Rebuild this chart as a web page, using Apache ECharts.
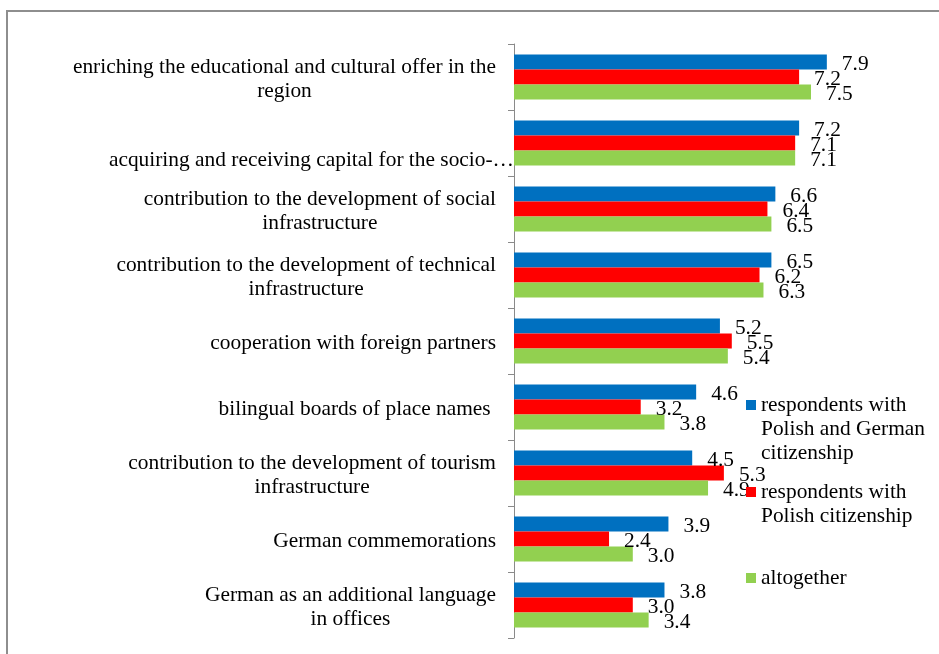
<!DOCTYPE html>
<html>
<head>
<meta charset="utf-8">
<script src="https://cdn.jsdelivr.net/npm/echarts@6/dist/echarts.min.js"></script>
<style>
html,body{margin:0;padding:0;width:939px;height:654px;overflow:hidden;background:#fff;}
#frame{position:absolute;left:6px;top:10px;width:1000px;height:700px;border:2px solid #8e8e8e;box-sizing:border-box;}
#chart{position:absolute;left:0;top:0;width:939px;height:654px;}
</style>
</head>
<body>
<div id="frame"></div>
<div id="chart"></div>
<script>
const categories = [
  'enriching the educational and cultural offer in the\nregion',
  'acquiring and receiving capital for the socio-\u2026',
  'contribution to the development of social\ninfrastructure',
  'contribution to the development of technical\ninfrastructure',
  'cooperation with foreign partners',
  'bilingual boards of place names ',
  'contribution to the development of tourism\ninfrastructure',
  'German commemorations',
  'German as an additional language\nin offices'
];
const seriesNames = [
  'respondents with\nPolish and German\ncitizenship',
  'respondents with\nPolish citizenship',
  'altogether'
];
const polishGerman = [7.9, 7.2, 6.6, 6.5, 5.2, 4.6, 4.5, 3.9, 3.8];
const polishOnly   = [7.2, 7.1, 6.4, 6.2, 5.5, 3.2, 5.3, 2.4, 3.0];
const altogether   = [7.5, 7.1, 6.5, 6.3, 5.4, 3.8, 4.9, 3.0, 3.4];

const colors = ['#0070C0', '#FF0000', '#92D050'];
const FONT = 'Liberation Serif';
const FS = 21.4;

const chart = echarts.init(document.getElementById('chart'), null, {renderer: 'canvas'});

function labelFormatter(v) {
  if (v.indexOf('acquiring') === 0) {
    return '{e|\u00a0}\n{d|' + v + '}';
  }
  return v.split('\n').map(l => '{c|' + l + '}').join('\n');
}

// legend icon: 10x10 square at top of a taller box so it lines up with the first text line
const iconHeights = [58, 34, 10];
function iconPath(h) {
  if (h <= 10) return 'rect';
  return 'path://M0,0h10v10h-10z M0,' + (h - 0.01) + 'h0.01v0.01h-0.01z';
}
const legendTops = [393, 480, 566];

const option = {
  animation: false,
  textStyle: {fontFamily: FONT},
  grid: {left: 514, top: 44, height: 594, width: 396},
  xAxis: {
    type: 'value', min: 0, max: 10, show: false
  },
  yAxis: {
    type: 'category',
    data: categories,
    inverse: true,
    axisLine: {show: true, lineStyle: {color: '#8a8a8a', width: 1}},
    axisTick: {show: true, length: 6, lineStyle: {color: '#8a8a8a', width: 1}},
    axisLabel: {
      margin: 0,
      padding: [4, 0, 0, 0],
      formatter: labelFormatter,
      rich: {
        c: {fontFamily: FONT, fontSize: FS, lineHeight: 24, color: '#000', align: 'center', padding: [0, 18, 0, 0]},
        d: {fontFamily: FONT, fontSize: FS, lineHeight: 24, color: '#000', align: 'center'},
        e: {fontFamily: FONT, fontSize: FS, lineHeight: 30, color: '#000', align: 'center'}
      }
    },
    splitLine: {show: false}
  },
  legend: seriesNames.map((n, i) => ({
    data: [n],
    left: 746,
    top: legendTops[i],
    orient: 'vertical',
    padding: 0,
    icon: iconPath(iconHeights[i]),
    itemWidth: 10,
    itemHeight: iconHeights[i],
    selectedMode: false,
    textStyle: {fontFamily: FONT, fontSize: FS, lineHeight: 24, color: '#000'}
  })),
  series: [polishGerman, polishOnly, altogether].map((d, i) => ({
    type: 'bar',
    name: seriesNames[i],
    data: d,
    barWidth: 15,
    barGap: '0%',
    itemStyle: {color: colors[i]},
    label: {
      show: true,
      position: 'right',
      distance: 15,
      offset: [0, 2],
      fontFamily: FONT,
      fontSize: FS,
      color: '#000',
      formatter: p => p.value.toFixed(1)
    }
  }))
};
chart.setOption(option);
</script>
</body>
</html>
